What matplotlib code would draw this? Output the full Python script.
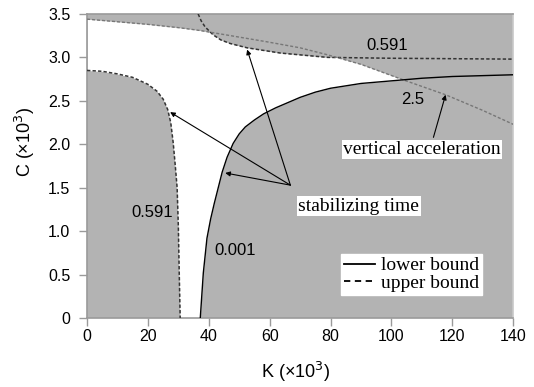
import numpy as np
import matplotlib
matplotlib.use("Agg")
import matplotlib.pyplot as plt
from matplotlib.lines import Line2D

# ---- data (K in x10^3, C in x10^3) ----
# left upper-bound stabilizing-time curve (0.591)
k_st_left = [0, 5, 10, 15, 20, 23, 25, 26.5, 27.5, 28.3, 29.0, 29.6, 30.0, 30.3, 30.6]
c_st_left = [2.85, 2.84, 2.81, 2.77, 2.69, 2.61, 2.52, 2.40, 2.25, 2.02, 1.75, 1.50, 1.05, 0.50, 0.0]

# lower-bound stabilizing-time curve (0.001)
k_st_low = [37.2, 38.2, 39.4, 40.6, 41.8, 43.1, 44.4, 46, 48, 50, 52, 55, 58, 62, 66, 70, 75, 80,
            90, 100, 110, 120, 130, 140]
c_st_low = [0.0, 0.52, 0.92, 1.14, 1.32, 1.50, 1.68, 1.85, 2.01, 2.12, 2.20, 2.28, 2.35, 2.42, 2.48,
            2.54, 2.60, 2.645, 2.70, 2.73, 2.76, 2.78, 2.79, 2.80]

# upper-bound vertical acceleration line (2.5)
k_va = [0, 20, 30.6, 37, 59, 70, 79, 90, 104, 117.8, 130, 140]
c_va = [3.44, 3.38, 3.34, 3.31, 3.18, 3.11, 3.03, 2.92, 2.74, 2.57, 2.39, 2.23]

# top upper-bound stabilizing-time curve (0.591)
k_st_top = [36.5, 37.5, 38.8, 41.4, 44, 47, 52.6, 63.5, 79, 100, 120, 140]
c_st_top = [3.5, 3.42, 3.35, 3.26, 3.20, 3.16, 3.11, 3.05, 3.00, 2.99, 2.985, 2.98]

x_ticks = [0, 20, 40, 60, 80, 100, 120, 140]
y_ticks = [0, 0.5, 1.0, 1.5, 2.0, 2.5, 3.0, 3.5]
y_tick_labels = ["0", "0.5", "1.0", "1.5", "2.0", "2.5", "3.0", "3.5"]

GRAY = "#b3b3b3"
SPINE = "#9a9a9a"
DASH = "#333333"

fig = plt.figure(figsize=(5.34, 3.87), dpi=100)
ax = fig.add_axes([0.163, 0.178, 0.798, 0.786])
ax.set_xlim(0, 140)
ax.set_ylim(0, 3.5)
ax.set_facecolor(GRAY)

# feasible (white) region
kg = np.linspace(0, 140, 3000)
lower = np.where(kg <= k_st_left[-1], np.interp(kg, k_st_left, c_st_left),
                 np.where(kg < k_st_low[0], 0.0, np.interp(kg, k_st_low, c_st_low)))
top = np.where(kg < k_st_top[0], 10.0, np.interp(kg, k_st_top, c_st_top))
upper = np.minimum(np.interp(kg, k_va, c_va), top)
ax.fill_between(kg, lower, upper, where=upper > lower, color="white", lw=0, zorder=1)
cg = np.linspace(0, c_st_left[0], 800)
ax.fill_betweenx(cg, np.interp(cg, c_st_left[::-1], k_st_left[::-1]), 35,
                 color="white", lw=0, zorder=1)

dash = (0, (2.2, 1.4))
ax.plot(k_st_left, c_st_left, color=DASH, lw=1.1, ls=dash, zorder=3)
ax.plot(k_st_top, c_st_top, color=DASH, lw=1.1, ls=dash, zorder=3)
ax.plot(k_va, c_va, color="#777777", lw=1.0, ls=dash, zorder=3)
ax.plot(k_st_low, c_st_low, color="black", lw=1.0, zorder=3)

# labels on curves
sans = "Liberation Sans"
serif = "Liberation Serif"
ax.text(98.6, 3.14, "0.591", fontsize=12, family=sans, ha="center", va="center", zorder=4)
ax.text(107, 2.51, "2.5", fontsize=12, family=sans, ha="center", va="center", zorder=4)
ax.text(21.4, 1.22, "0.591", fontsize=12, family=sans, ha="center", va="center", zorder=4)
ax.text(48.7, 0.78, "0.001", fontsize=12, family=sans, ha="center", va="center", zorder=4)

bbox = dict(facecolor="white", edgecolor="none", pad=1.0)
ax.text(110, 1.94, "vertical acceleration", fontsize=14, family=serif, ha="center",
        va="center", bbox=bbox, zorder=5)
ax.text(89.3, 1.29, "stabilizing time", fontsize=14, family=serif, ha="center",
        va="center", bbox=bbox, zorder=5)

ap = dict(arrowstyle="-|>", color="black", lw=0.8, mutation_scale=7, shrinkA=0, shrinkB=0)
ax.annotate("", xy=(117.8, 2.57), xytext=(113.8, 2.08), arrowprops=ap, zorder=4)
src = (66.8, 1.53)
for tgt in [(52.6, 3.09), (27.3, 2.37), (45.4, 1.67)]:
    ax.annotate("", xy=tgt, xytext=src, arrowprops=ap, zorder=4)

# legend
handles = [Line2D([], [], color="black", lw=1.3),
           Line2D([], [], color="black", lw=1.3, ls=(0, (3.5, 2.5)))]
leg = ax.legend(handles, ["lower bound", "upper bound"], loc="lower right",
                bbox_to_anchor=(0.927, 0.076), prop={"family": serif, "size": 14},
                frameon=True, fancybox=False, handlelength=1.6, handletextpad=0.3,
                borderpad=0.15, labelspacing=0.0, borderaxespad=0)
leg.get_frame().set_edgecolor("white")
leg.get_frame().set_facecolor("white")
leg.get_frame().set_alpha(1)
leg.set_zorder(6)

ax.set_xticks(x_ticks)
ax.set_yticks(y_ticks)
ax.set_yticklabels(y_tick_labels)
for lab in ax.get_xticklabels() + ax.get_yticklabels():
    lab.set_family(sans)
    lab.set_fontsize(11.5)
ax.tick_params(direction="out", length=6, width=1, color=SPINE)
ax.tick_params(axis="y", pad=6)
ax.tick_params(axis="x", pad=2)
for s in ax.spines.values():
    s.set_color(SPINE)
    s.set_linewidth(1.2)
ax.spines["right"].set_color("#c8c8c8")

ax.set_xlabel("K (×10$^3$)", family=sans, fontsize=13)
ax.set_ylabel("C (×10$^3$)", family=sans, fontsize=13)
ax.xaxis.set_label_coords(0.49, -0.178)
ax.yaxis.set_label_coords(-0.146, 0.578)
ax.xaxis.label.set_va("center")
ax.yaxis.label.set_va("center")

fig.savefig("out.png", dpi=100)
